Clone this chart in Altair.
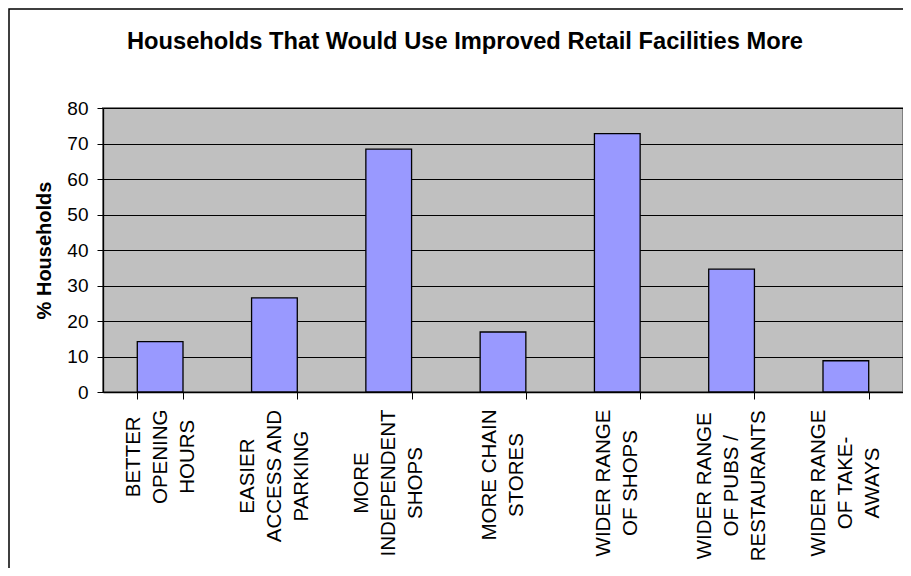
import altair as alt
import pandas as pd

categories = [
    "BETTER\nOPENING\nHOURS",
    "EASIER\nACCESS AND\nPARKING",
    "MORE\nINDEPENDENT\nSHOPS",
    "MORE CHAIN\nSTORES",
    "WIDER RANGE\nOF SHOPS",
    "WIDER RANGE\nOF PUBS /\nRESTAURANTS",
    "WIDER RANGE\nOF TAKE-\nAWAYS",
]
values = [14.2, 26.5, 68.4, 16.9, 72.8, 34.6, 8.8]
y_ticks = [0, 10, 20, 30, 40, 50, 60, 70, 80]

title_text = "Households That Would Use Improved Retail Facilities More"
y_title = "% Households"

W = 800
H = 284
PAD_L = 95
PAD_T = 100
FONT = "Liberation Sans"
LABEL_FS = 20.5
LABEL_LH = 27
TICK = 7
LABEL_TOP_GAP = 10  # gap between tick end and top of the longest label line

# Arial advance widths (per 1000 em) for measuring the rotated label lines,
# so each label block can be top-anchored with its lines centred (as in Excel).
ARIAL = {
    "A": 667, "B": 667, "C": 722, "D": 722, "E": 667, "F": 611, "G": 778,
    "H": 722, "I": 278, "K": 667, "L": 556, "M": 833, "N": 722, "O": 778,
    "P": 667, "R": 722, "S": 667, "T": 611, "U": 722, "W": 944, "Y": 667,
    " ": 278, "/": 278, "-": 333,
}


def line_px(s):
    return sum(ARIAL.get(c, 600) for c in s) * LABEL_FS / 1000.0


pads = []
offs = []
for c in categories:
    lines = c.split("\n")
    longest = max(line_px(l) for l in lines)
    pads.append(round(LABEL_TOP_GAP + longest / 2.0, 1))
    offs.append(round(-(len(lines) - 1) * LABEL_LH / 2.0, 1))

n_last = len(categories) - 1
idx = f"round(datum.index * {n_last})"
pad_expr = "[" + ",".join(str(p) for p in pads) + "][" + idx + "]"
off_expr = "[" + ",".join(str(o) for o in offs) + "][" + idx + "]"

df = pd.DataFrame({"category": categories, "value": values})

bars = alt.Chart(df).mark_bar(
    color="#9999FF", stroke="#000000", strokeWidth=1.3
).encode(
    x=alt.X(
        "category:N",
        sort=categories,
        scale=alt.Scale(paddingInner=0.6, paddingOuter=0.3),
        axis=alt.Axis(
            title=None,
            labelExpr="split(datum.label, '\\n')",
            labelAngle=270,
            labelAlign="center",
            labelBaseline="middle",
            labelPadding=alt.ExprRef(pad_expr),
            labelOffset=alt.ExprRef(off_expr),
            labelLineHeight=LABEL_LH,
            labelFontSize=LABEL_FS,
            labelFont=FONT,
            labelColor="#000000",
            labelLimit=400,
            labelOverlap=False,
            labelBound=False,
            tickBand="extent",
            tickSize=TICK,
            tickColor="#000000",
            tickWidth=1,
            domainColor="#000000",
            domainWidth=1.3,
            grid=False,
        ),
    ),
    y=alt.Y(
        "value:Q",
        scale=alt.Scale(domain=[0, 80], nice=False),
        axis=alt.Axis(
            title=y_title,
            values=y_ticks,
            titleFont=FONT,
            titleFontSize=20,
            titleFontWeight="bold",
            titleColor="#000000",
            titleAngle=270,
            titleAlign="center",
            titleBaseline="middle",
            titleX=-59,
            titleY=H / 2,
            labelFont=FONT,
            labelFontSize=19,
            labelColor="#000000",
            labelPadding=9,
            labelBaseline="middle",
            tickSize=6,
            tickColor="#000000",
            domainColor="#000000",
            domainWidth=1.3,
            grid=True,
            gridColor="#000000",
            gridWidth=1,
            gridOpacity=1,
        ),
    ),
)

frame = alt.Chart(pd.DataFrame({"k": [0]})).mark_rect(
    filled=False, stroke="#000000", strokeWidth=1.5
).encode(
    x=alt.value(-PAD_L + 1),
    y=alt.value(-PAD_T + 1),
    x2=alt.value(W + 300),
    y2=alt.value(H + 400),
)

chart = alt.layer(bars, frame).properties(
    width=W,
    height=H,
    background="#FFFFFF",
    autosize=alt.AutoSizeParams(type="none"),
    padding={"left": PAD_L, "top": PAD_T, "right": 0, "bottom": 176},
    title=alt.TitleParams(
        text=title_text,
        font=FONT,
        fontSize=23.7,
        fontWeight="bold",
        color="#000000",
        anchor="middle",
        frame="group",
        baseline="alphabetic",
        dx=-38,
        offset=-64,
    ),
).configure_view(
    fill="#C0C0C0", stroke="#808080", strokeWidth=2
)

chart.save("out.html", embed_options={"renderer": "svg", "actions": False})
